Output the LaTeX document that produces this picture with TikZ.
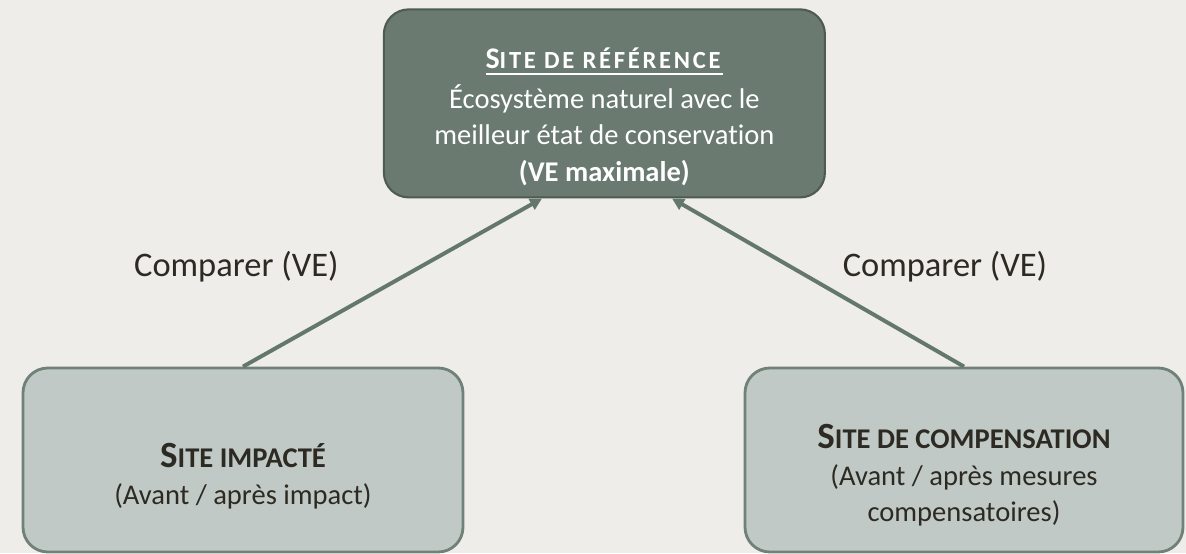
\documentclass[tikz,border=0pt]{standalone}
\usepackage{fontspec}
\setmainfont{Carlito}[Ligatures = NoCommon]
\usetikzlibrary{arrows.meta, positioning, shapes}

\definecolor{bgcol}{HTML}{EEEDE9}
\definecolor{refFill}{HTML}{6A7A70}
\definecolor{refEdge}{HTML}{4E5B53}
\definecolor{siteFill}{HTML}{C0C9C5}
\definecolor{siteEdge}{HTML}{6F8178}
\definecolor{arrowCol}{HTML}{64776D}
\definecolor{textCol}{HTML}{2C2A22}

\newcommand{\bodysize}{\fontsize{20.3}{26}\selectfont}
\newcommand{\sitetitle}[2]{\textbf{{\fontsize{26.3}{26}\selectfont #1}{\fontsize{20.3}{26}\selectfont #2}}}
\newcommand{\reftitle}[2]{\textbf{{\fontsize{21.3}{26}\selectfont #1}{\fontsize{17.5}{26}\selectfont\addfontfeature{LetterSpace=11}#2}}}
\newcommand{\refunder}[1]{\setbox0\hbox{#1}\rlap{\copy0}\vrule width \wd0 height -2.8pt depth 4.3pt}

\begin{document}
\begin{tikzpicture}[
	sitebox/.style = {draw = siteEdge, line width = 2pt, fill = siteFill, rounded corners = 0.62cm, text = textCol, align = center, minimum width = 11cm, minimum height = 4.6cm, font = \bodysize},
	refbox/.style = {draw = refEdge, line width = 1.5pt, fill = refFill, rounded corners = 0.62cm, text = white, align = center, minimum width = 11.025cm, minimum height = 4.7cm, font = \bodysize},
	arrowline/.style = {draw = arrowCol, line width = 2.8pt, -{Triangle[length = 8.5pt, width = 8.5pt]}},
	cmplabel/.style = {text = textCol, font = \fontsize{24.5}{28}\selectfont, anchor = base}
]
	\fill[bgcol] (0, 0) rectangle (29.65, 13.825);
	\useasboundingbox (0, 0) rectangle (29.65, 13.825);

	\node[refbox] (ref) at (15.11, 11.24) {\rule{0pt}{34pt}\refunder{\reftitle{S}{ITE DE RÉFÉRENCE}}\\[2pt] Écosystème naturel avec le\\ meilleur état de conservation\\ \textbf{(VE maximale)}};

	\node[sitebox] (imp) at (6.075, 2.325) {\rule{0pt}{40pt}\sitetitle{S}{ITE IMPACTÉ}\\ (Avant / après impact)};
	\node[sitebox, minimum width = 10.95cm] (comp) at (24.1, 2.325) {\rule{0pt}{39pt}\sitetitle{S}{ITE DE COMPENSATION}\\ (Avant / après mesures\\ compensatoires)};

	\node[cmplabel] (lab1) at (5.91, 6.9) {Comparer (VE)};
	\node[cmplabel] (lab2) at (23.625, 6.9) {Comparer (VE)};

	\draw[arrowline] (imp.north) -- ([xshift = -1.56cm]ref.south);
	\draw[arrowline] (comp.north) -- ([xshift = 1.69cm]ref.south);

\end{tikzpicture}
\end{document}
